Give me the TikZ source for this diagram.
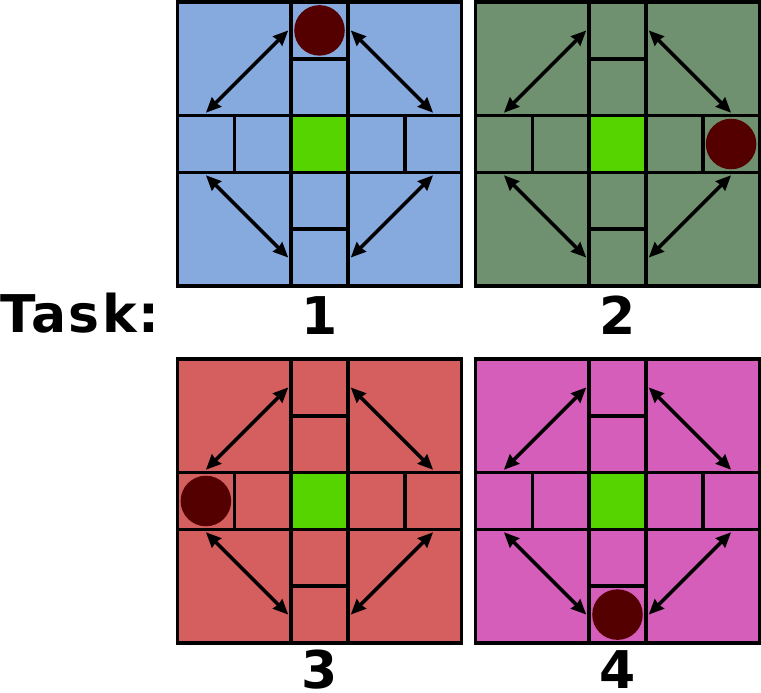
\documentclass[tikz,border=0pt]{standalone}
\usepackage{fontspec}
\setmainfont{DejaVu Sans}
\usetikzlibrary{arrows.meta}

\definecolor{boardblue}{RGB}{135,170,222}
\definecolor{boardgreen}{RGB}{111,145,111}
\definecolor{boardred}{RGB}{213,94,94}
\definecolor{boardpink}{RGB}{212,94,186}
\definecolor{goalgreen}{RGB}{85,212,0}
\definecolor{agentred}{RGB}{85,0,0}

\tikzset{
    gridline/.style={line width=3.6pt},
    jumptip/.tip={Stealth[length=15pt,width=13pt,inset=1pt]},
    jumpline/.style={line width=3.6pt, jumptip-jumptip},
    tasklabel/.style={font=\fontsize{52}{60}\selectfont\bfseries\addfontfeatures{LetterSpace=4.5}, inner sep=0pt}
}

\begin{document}
\begin{tikzpicture}[x=1pt,y=-1pt]
    \useasboundingbox (0,0) rectangle (761,693);

    \foreach \px/\py/\col/\ax/\ay in {177.5/2/boardblue/2.5/0.5, 475.5/2/boardgreen/4.5/2.5,
                                      177.5/359/boardred/0.5/2.5, 475.5/359/boardpink/2.5/4.5} {
      \begin{scope}[shift={(\px,\py)}, x=56.8pt, y=-56.8pt]
        \fill[\col] (0,0) rectangle (5,5);
        \fill[goalgreen] (2,2) rectangle (3,3);
        \fill[agentred] (\ax,\ay) circle [radius=0.445];

        \draw[gridline] (2,0) -- (2,5) (3,0) -- (3,5) (0,2) -- (5,2) (0,3) -- (5,3);
        \draw[gridline] (2,1) -- (3,1) (2,4) -- (3,4) (1,2) -- (1,3) (4,2) -- (4,3);
        \draw[gridline] (0,0) rectangle (5,5);

        \draw[jumpline] (1.95,0.5) -- (0.5,1.95);
        \draw[jumpline] (3.05,0.5) -- (4.5,1.95);
        \draw[jumpline] (0.5,3.05) -- (1.95,4.5);
        \draw[jumpline] (4.5,3.05) -- (3.05,4.5);
      \end{scope}
    }

    \node[tasklabel, anchor=base west] (task) at (0,332) {Task:};
    \node[tasklabel, anchor=base] (t1) at (319.5,334) {1};
    \node[tasklabel, anchor=base] (t2) at (617.5,334) {2};
    \node[tasklabel, anchor=base] (t3) at (319.5,688.5) {3};
    \node[tasklabel, anchor=base] (t4) at (617.5,688.5) {4};
\end{tikzpicture}
\end{document}
